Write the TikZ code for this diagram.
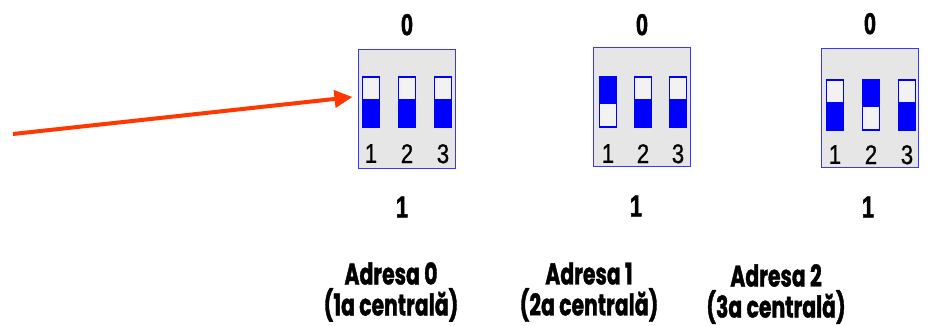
\documentclass[tikz,border=0pt]{standalone}
\usepackage{fontspec}
\setmainfont{Poppins}
\newfontfamily\capfont{Poppins Bold}[FakeStretch=0.68, FakeBold=1.2]
\newfontfamily\narrowfont{Liberation Sans Bold}[FakeStretch=0.72, FakeBold=1.8]
\newfontfamily\numfont{Liberation Sans}[FakeStretch=0.82, FakeBold=0.8]
\usetikzlibrary{positioning,arrows.meta}

\definecolor{dipblue}{RGB}{0,0,255}
\definecolor{frameblue}{RGB}{55,55,255}
\definecolor{boxgray}{RGB}{230,230,230}
\definecolor{swwhite}{RGB}{242,242,242}
\definecolor{arrowred}{RGB}{255,55,0}

\tikzset{
  dipbox/.style={draw=frameblue, line width=1.8pt, fill=boxgray, minimum width=97pt, minimum height=119pt, inner sep=0pt, outer sep=0pt},
  dipsw/.style={draw=dipblue, line width=1.6pt, fill=swwhite, minimum width=17pt, minimum height=50pt, inner sep=0pt, outer sep=0pt},
  swdown/.style={dipsw, path picture={\fill[dipblue] (path picture bounding box.south west) rectangle ([yshift=3pt]path picture bounding box.east);}},
  swup/.style={dipsw, path picture={\fill[dipblue] (path picture bounding box.north west) rectangle ([yshift=-2pt]path picture bounding box.east);}},
  posn/.style={font=\narrowfont\fontsize{30}{30}\selectfont, inner sep=0pt},
  swnum/.style={font=\numfont\fontsize{27}{27}\selectfont, inner sep=0pt},
  caption/.style={font=\capfont\fontsize{30}{31}\selectfont, align=center, inner sep=0pt},
}

\begin{document}
\begin{tikzpicture}[x=1pt,y=-1pt]
\useasboundingbox (0,0) rectangle (949,325);

% Boxes
\node[dipbox] (box1) at (407,109) {};
\node[dipbox] (box2) at (642,107) {};
\node[dipbox] (box3) at (870,108) {};

% Switches
\node[swdown] (sw11) at (371,102) {};
\node[swdown, right=19pt of sw11] (sw12) {};
\node[swdown, right=19pt of sw12] (sw13) {};

\node[swup] (sw21) at (608,102) {};
\node[swdown, right=18pt of sw21] (sw22) {};
\node[swdown, right=18pt of sw22] (sw23) {};

\node[swdown] (sw31) at (835,105) {};
\node[swup, right=19pt of sw31] (sw32) {};
\node[swdown, right=19pt of sw32] (sw33) {};

% Switch numbers
\node[swnum, below=17pt of sw11] (n11) {1};
\node[swnum, below=17pt of sw12] (n12) {2};
\node[swnum, below=17pt of sw13] (n13) {3};
\node[swnum, below=17pt of sw21] (n21) {1};
\node[swnum, below=17pt of sw22] (n22) {2};
\node[swnum, below=17pt of sw23] (n23) {3};
\node[swnum, below=15pt of sw31] (n31) {1};
\node[swnum, below=15pt of sw32] (n32) {2};
\node[swnum, below=15pt of sw33] (n33) {3};

% Positions
\node[posn, above=14pt of box1] (top1) {0};
\node[posn, above=12pt of box2] (top2) {0};
\node[posn, above=14pt of box3] (top3) {0};
\node[posn, below=28pt of box1, xshift=-5pt] (bot1) {1};
\node[posn, below=29pt of box2, xshift=-6pt] (bot2) {1};
\node[posn, below=29pt of box3, xshift=-2pt] (bot3) {1};

% Captions
\node[caption] (cap1) at (391,292) {Adresa 0\\(1a centrală)};
\node[caption] (cap2) at (589,292) {Adresa 1\\(2a centrală)};
\node[caption] (cap3) at (776,294) {Adresa 2\\(3a centrală)};

% Pointer
\coordinate (tail) at (13,134);
\draw[arrowred, line width=4pt, -{Triangle[length=18pt,width=17pt]}] (tail) -- ([xshift=-6pt,yshift=12pt]box1.west);

\end{tikzpicture}
\end{document}
